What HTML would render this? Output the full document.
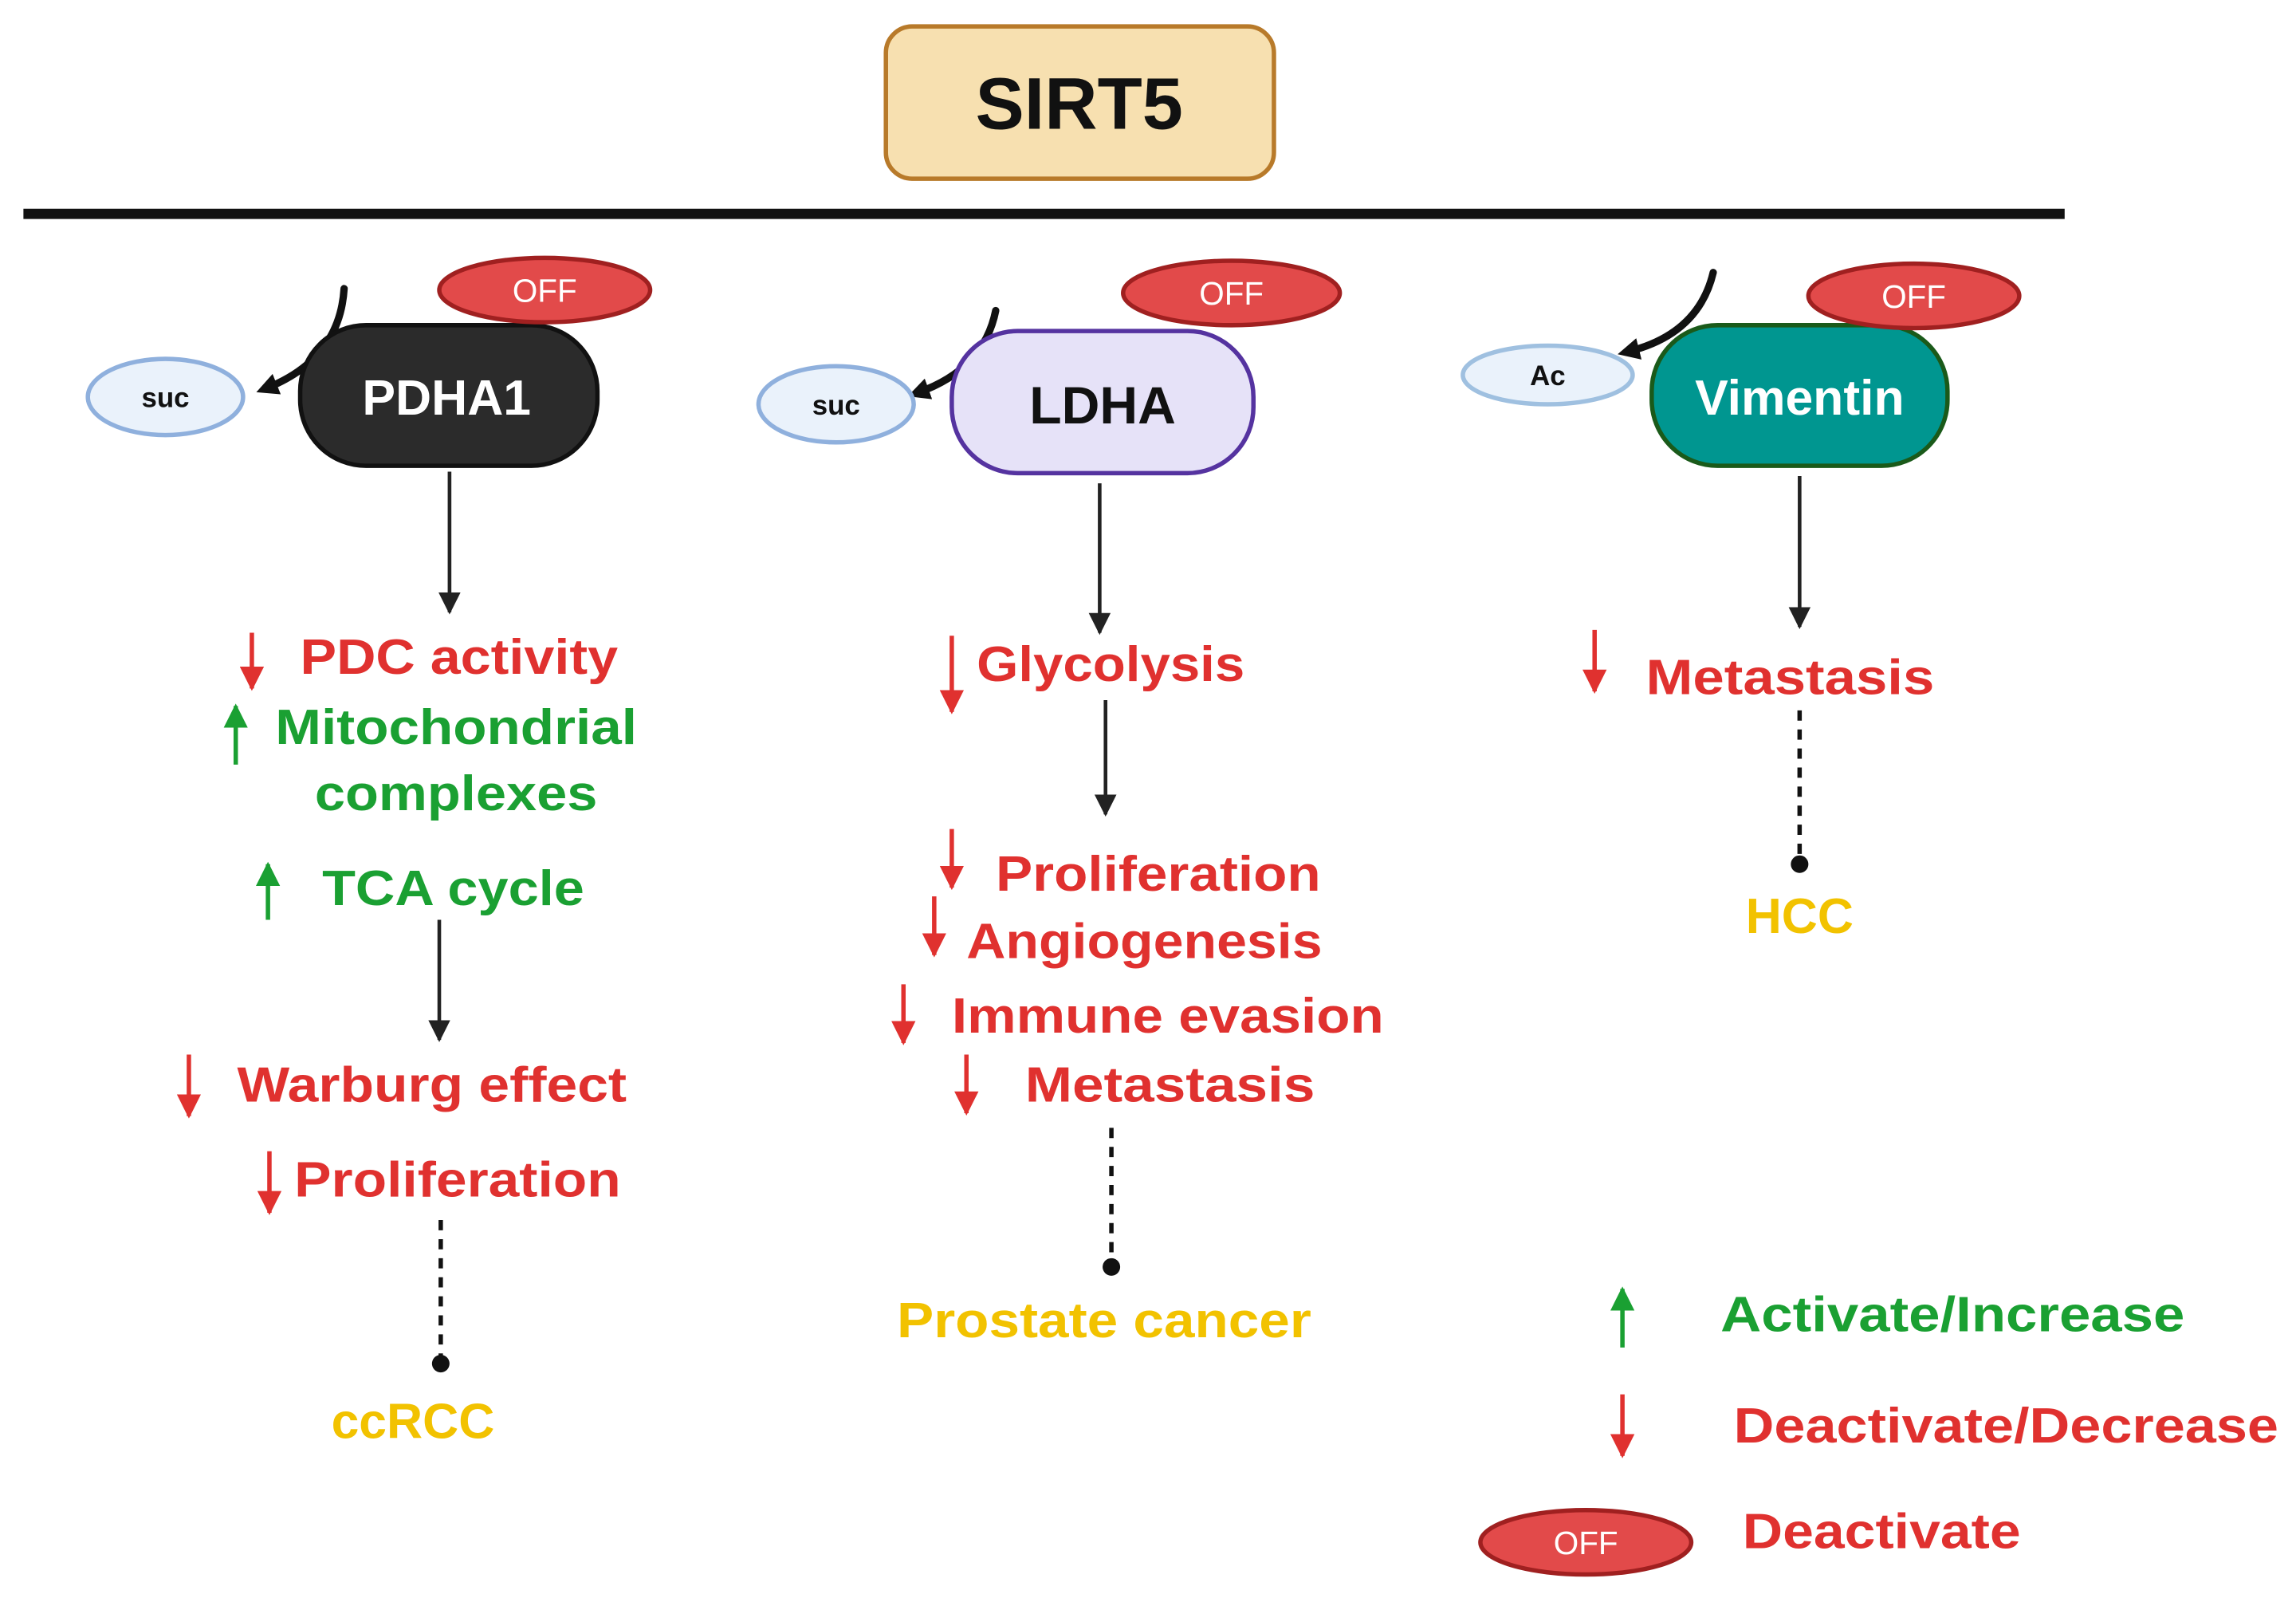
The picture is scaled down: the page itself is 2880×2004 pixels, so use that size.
<!DOCTYPE html>
<html><head><meta charset="utf-8"><style>html,body{margin:0;padding:0;background:#fff}svg{display:block}</style></head>
<body>
<svg width="2880" height="2004" viewBox="0 0 1568 1091" xmlns="http://www.w3.org/2000/svg" font-family="'Liberation Sans', sans-serif" font-weight="bold">
<defs>
<marker id="ah" viewBox="0 0 10 10" refX="9" refY="5" markerWidth="6" markerHeight="6" orient="auto-start-reverse"><path d="M0,0 L10,5 L0,10 z" fill="#222"/></marker>
<marker id="ahr" viewBox="0 0 10 10" refX="9" refY="5" markerWidth="5.5" markerHeight="5.5" orient="auto-start-reverse"><path d="M0,0 L10,5 L0,10 z" fill="#e0312f"/></marker>
<marker id="ahg" viewBox="0 0 10 10" refX="9" refY="5" markerWidth="5.5" markerHeight="5.5" orient="auto-start-reverse"><path d="M0,0 L10,5 L0,10 z" fill="#1aa032"/></marker>
<marker id="ahc" viewBox="0 0 10 10" refX="5" refY="5" markerWidth="3" markerHeight="3" orient="auto"><path d="M0,0 L10,5 L0,10 z" fill="#111"/></marker>
</defs>

<rect x="605" y="18" width="265" height="104" rx="18" fill="#f7e0b0" stroke="#b87a2a" stroke-width="3"/>
<text x="737" y="88" font-size="50" text-anchor="middle" fill="#111">SIRT5</text>
<line x1="16" y1="146" x2="1410" y2="146" stroke="#111" stroke-width="7"/>

<g stroke-linecap="round" fill="none">
<path d="M235,197 Q232,245 182,265" stroke="#111" stroke-width="5" marker-end="url(#ahc)"/>
<path d="M680,212 Q672,252 627,268" stroke="#111" stroke-width="5" marker-end="url(#ahc)"/>
<path d="M1170,186 Q1160,228 1112,240" stroke="#111" stroke-width="5" marker-end="url(#ahc)"/>
</g>

<ellipse cx="113" cy="271" rx="53" ry="26" fill="#eaf2fb" stroke="#8fb0dd" stroke-width="3"/>
<text x="113" y="278" font-size="19" text-anchor="middle" fill="#111">suc</text>
<rect x="205" y="222" width="203" height="96" rx="45" fill="#2b2b2b" stroke="#111" stroke-width="3"/>
<text x="305" y="283" font-size="34" text-anchor="middle" fill="#fff">PDHA1</text>
<ellipse cx="372" cy="198" rx="72" ry="22" fill="#e24a4a" stroke="#a02020" stroke-width="3"/>
<text x="372" y="206" font-size="22" text-anchor="middle" fill="#fff" font-weight="normal">OFF</text>

<ellipse cx="571" cy="276" rx="53" ry="26" fill="#eaf2fb" stroke="#8fb0dd" stroke-width="3"/>
<text x="571" y="283" font-size="19" text-anchor="middle" fill="#111">suc</text>
<rect x="650" y="226" width="206" height="97" rx="45" fill="#e6e2f8" stroke="#5533a0" stroke-width="3"/>
<text x="753" y="289" font-size="36" text-anchor="middle" fill="#111">LDHA</text>
<ellipse cx="841" cy="200" rx="74" ry="22" fill="#e24a4a" stroke="#a02020" stroke-width="3"/>
<text x="841" y="208" font-size="22" text-anchor="middle" fill="#fff" font-weight="normal">OFF</text>

<ellipse cx="1057" cy="256" rx="58" ry="20" fill="#eaf2fb" stroke="#9fc0e0" stroke-width="3"/>
<text x="1057" y="263" font-size="19" text-anchor="middle" fill="#111">Ac</text>
<rect x="1128" y="222" width="202" height="96" rx="45" fill="#009690" stroke="#1a5a1a" stroke-width="3"/>
<text x="1229" y="283" font-size="34" text-anchor="middle" fill="#fff">Vimentin</text>
<ellipse cx="1307" cy="202" rx="72" ry="22" fill="#e24a4a" stroke="#a02020" stroke-width="3"/>
<text x="1307" y="210" font-size="22" text-anchor="middle" fill="#fff" font-weight="normal">OFF</text>

<g stroke="#222" stroke-width="2.5" fill="none">
<line x1="307" y1="322" x2="307" y2="418" marker-end="url(#ah)"/>
<line x1="300" y1="628" x2="300" y2="710" marker-end="url(#ah)"/>
<line x1="751" y1="330" x2="751" y2="432" marker-end="url(#ah)"/>
<line x1="755" y1="478" x2="755" y2="556" marker-end="url(#ah)"/>
<line x1="1229" y1="325" x2="1229" y2="428" marker-end="url(#ah)"/>
</g>
<g stroke="#111" stroke-width="3" stroke-dasharray="7,6">
<line x1="301" y1="833" x2="301" y2="926"/>
<line x1="759" y1="770" x2="759" y2="860"/>
<line x1="1229" y1="485" x2="1229" y2="584"/>
</g>
<circle cx="301" cy="931" r="6" fill="#111"/>
<circle cx="759" cy="865" r="6" fill="#111"/>
<circle cx="1229" cy="590" r="6" fill="#111"/>

<g stroke-width="3">
<line x1="172" y1="432" x2="172" y2="470" stroke="#e0312f" marker-end="url(#ahr)"/>
<line x1="161" y1="522" x2="161" y2="482" stroke="#1aa032" marker-end="url(#ahg)"/>
<line x1="183" y1="628" x2="183" y2="590" stroke="#1aa032" marker-end="url(#ahg)"/>
<line x1="129" y1="720" x2="129" y2="762" stroke="#e0312f" marker-end="url(#ahr)"/>
<line x1="184" y1="786" x2="184" y2="828" stroke="#e0312f" marker-end="url(#ahr)"/>
<line x1="650" y1="434" x2="650" y2="486" stroke="#e0312f" marker-end="url(#ahr)"/>
<line x1="650" y1="566" x2="650" y2="606" stroke="#e0312f" marker-end="url(#ahr)"/>
<line x1="638" y1="612" x2="638" y2="652" stroke="#e0312f" marker-end="url(#ahr)"/>
<line x1="617" y1="672" x2="617" y2="712" stroke="#e0312f" marker-end="url(#ahr)"/>
<line x1="660" y1="720" x2="660" y2="760" stroke="#e0312f" marker-end="url(#ahr)"/>
<line x1="1089" y1="430" x2="1089" y2="472" stroke="#e0312f" marker-end="url(#ahr)"/>
<line x1="1108" y1="920" x2="1108" y2="880" stroke="#1aa032" marker-end="url(#ahg)"/>
<line x1="1108" y1="952" x2="1108" y2="994" stroke="#e0312f" marker-end="url(#ahr)"/>
</g>

<g font-size="34" fill="#e0312f">
<text x="205" y="460" textLength="217" lengthAdjust="spacingAndGlyphs">PDC activity</text>
<text x="162" y="752" textLength="266" lengthAdjust="spacingAndGlyphs">Warburg effect</text>
<text x="201" y="817" textLength="223" lengthAdjust="spacingAndGlyphs">Proliferation</text>
<text x="667" y="465" textLength="183" lengthAdjust="spacingAndGlyphs">Glycolysis</text>
<text x="680" y="608" textLength="222" lengthAdjust="spacingAndGlyphs">Proliferation</text>
<text x="660" y="654" textLength="243" lengthAdjust="spacingAndGlyphs">Angiogenesis</text>
<text x="650" y="705" textLength="295" lengthAdjust="spacingAndGlyphs">Immune evasion</text>
<text x="700" y="752" textLength="198" lengthAdjust="spacingAndGlyphs">Metastasis</text>
<text x="1124" y="474" textLength="197" lengthAdjust="spacingAndGlyphs">Metastasis</text>
<text x="1184" y="985" textLength="372" lengthAdjust="spacingAndGlyphs">Deactivate/Decrease</text>
<text x="1190" y="1057" textLength="190" lengthAdjust="spacingAndGlyphs">Deactivate</text>
</g>
<g font-size="34" fill="#1aa032">
<text x="188" y="508" textLength="247" lengthAdjust="spacingAndGlyphs">Mitochondrial</text>
<text x="215" y="553" textLength="193" lengthAdjust="spacingAndGlyphs">complexes</text>
<text x="220" y="618" textLength="179" lengthAdjust="spacingAndGlyphs">TCA cycle</text>
<text x="1175" y="909" textLength="317" lengthAdjust="spacingAndGlyphs">Activate/Increase</text>
</g>
<g font-size="34" fill="#f2c200" text-anchor="middle">
<text x="282" y="982">ccRCC</text>
<text x="754" y="913" textLength="283" lengthAdjust="spacingAndGlyphs">Prostate cancer</text>
<text x="1229" y="637">HCC</text>
</g>

<ellipse cx="1083" cy="1053" rx="72" ry="22" fill="#e24a4a" stroke="#a02020" stroke-width="3"/>
<text x="1083" y="1061" font-size="22" text-anchor="middle" fill="#fff" font-weight="normal">OFF</text>
</svg>
</body></html>
